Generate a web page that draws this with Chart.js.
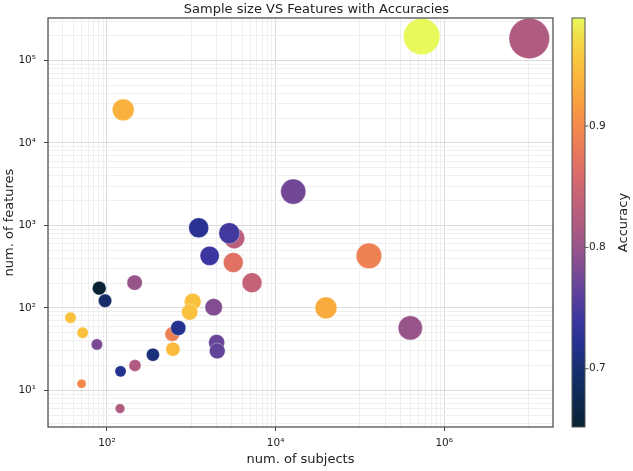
<!DOCTYPE html>
<html>
<head>
<meta charset="utf-8">
<script src="https://cdn.jsdelivr.net/npm/chart.js@4.4.1/dist/chart.umd.min.js"></script>
<style>
html,body{margin:0;padding:0;background:#fff;}
#wrap{width:633px;height:471px;}
canvas{display:block;}
</style>
</head>
<body>
<div id="wrap"><canvas id="c" width="633" height="471" style="width:633px;height:471px"></canvas></div>
<script>
// ---- data ----
const subjects = [37, 51.5, 50, 76, 81, 95, 143, 145, 215, 213, 156, 351, 606, 595, 701, 1040, 957, 1845, 2000, 2033, 1225, 1652, 3236, 2825, 3148, 5250, 16200, 39600, 128000, 396000, 541000, 10200000];
const features = [76, 50, 12, 36, 173, 122, 6, 17, 20, 202, 25200, 27, 31.5, 48, 57, 119, 89, 102, 38, 30, 933, 427, 700, 803, 354, 202, 2570, 100, 427, 57, 195000, 185000];
const accuracy = [0.95, 0.95, 0.90, 0.78, 0.652, 0.695, 0.82, 0.72, 0.82, 0.80, 0.935, 0.705, 0.945, 0.89, 0.72, 0.95, 0.95, 0.785, 0.77, 0.765, 0.725, 0.74, 0.83, 0.745, 0.87, 0.84, 0.775, 0.93, 0.89, 0.80, 0.989, 0.82];
const xLabeledTicks = [1e2, 1e4, 1e6];
const yLabeledTicks = [1e1, 1e2, 1e3, 1e4, 1e5];
const cbTicks = [0.7, 0.8, 0.9];
const accMin = 0.652, accMax = 0.989;

// ---- colormap (thermal-like) ----
const cmapStops = [
  [0.652,'#082233'],[0.68,'#0f2b58'],[0.70,'#172f70'],[0.72,'#24328f'],
  [0.74,'#3c36a0'],[0.76,'#5a409c'],[0.78,'#7a4b94'],[0.80,'#985589'],
  [0.82,'#b05c80'],[0.84,'#c46278'],[0.86,'#d96b6b'],[0.88,'#e9785b'],
  [0.90,'#f38a4b'],[0.92,'#f8a040'],[0.94,'#fbb63c'],[0.96,'#f8cb40'],
  [0.975,'#f0e04b'],[0.989,'#e8fa5b']
];
function hex2rgb(h){return [parseInt(h.slice(1,3),16),parseInt(h.slice(3,5),16),parseInt(h.slice(5,7),16)];}
function cmap(v){
  if (v <= cmapStops[0][0]) return cmapStops[0][1];
  for (let i=1;i<cmapStops.length;i++){
    if (v <= cmapStops[i][0]){
      const [v0,c0]=cmapStops[i-1],[v1,c1]=cmapStops[i];
      const t=(v-v0)/(v1-v0), a=hex2rgb(c0), b=hex2rgb(c1);
      return 'rgb('+a.map((x,k)=>Math.round(x+(b[k]-x)*t)).join(',')+')';
    }
  }
  return cmapStops[cmapStops.length-1][1];
}

const SUP = {'0':'⁰','1':'¹','2':'²','3':'³','4':'⁴','5':'⁵','6':'⁶','7':'⁷','8':'⁸','9':'⁹'};
function powLabel(v){ const e=Math.round(Math.log10(v)); return '10'+String(e).split('').map(c=>SUP[c]).join(''); }
function near(list,v){ return list.some(t=>Math.abs(t-v)/t<1e-9); }

const FONT = 'DejaVu Sans';
const TXT = '#222';

function xGridValues(min,max){
  const out=[];
  for(let k=0;k<=8;k++){ for(let m=1;m<=9;m++){
    if (k%2===0 && m!==1) continue;
    const v=m*Math.pow(10,k);
    if (v>=min && v<=max) out.push(v);
  }}
  return out;
}
function yGridValues(min,max){
  const out=[];
  for(let k=0;k<=6;k++){ for(let m=1;m<=9;m++){
    const v=m*Math.pow(10,k);
    if (v>=min && v<=max) out.push(v);
  }}
  return out;
}
function noPad(s){ s.paddingTop=0; s.paddingBottom=0; s.paddingLeft=0; s.paddingRight=0; }

const points = subjects.map((s,i)=>({x:s, y:features[i], r:1.65*Math.log10(s*features[i])}));

const framePlugin = {
  id:'frameAndColorbar',
  afterDraw(chart){
    const ctx=chart.ctx, a=chart.chartArea;
    ctx.save();
    ctx.strokeStyle='#444'; ctx.lineWidth=1.2;
    ctx.strokeRect(a.left, a.top, a.right-a.left, a.bottom-a.top);
    const s=chart.scales.cb;
    const x0=s.left+19, w=13;
    const yMin=s.getPixelForValue(s.min), yMax=s.getPixelForValue(s.max);
    const g=ctx.createLinearGradient(0,yMin,0,yMax);
    cmapStops.forEach(([v,c])=>g.addColorStop(Math.min(1,Math.max(0,(v-s.min)/(s.max-s.min))),c));
    ctx.fillStyle=g;
    ctx.fillRect(x0,yMax,w,yMin-yMax);
    ctx.lineWidth=1;
    ctx.strokeStyle='#555';
    ctx.strokeRect(x0,yMax,w,yMin-yMax);
    s.ticks.forEach(t=>{
      const y=s.getPixelForValue(t.value);
      ctx.beginPath(); ctx.moveTo(x0+w,y); ctx.lineTo(x0+w+3.5,y); ctx.stroke();
    });
    ctx.translate(s.left+71,(yMin+yMax)/2);
    ctx.rotate(-Math.PI/2);
    ctx.fillStyle=TXT; ctx.font='13px "'+FONT+'"';
    ctx.textAlign='center'; ctx.textBaseline='middle';
    ctx.fillText('Accuracy',0,0);
    ctx.restore();
  }
};

new Chart(document.getElementById('c'), {
  type:'bubble',
  data:{datasets:[{
    data:points,
    backgroundColor:accuracy.map(cmap),
    borderColor:'rgba(255,255,255,0.55)',
    borderWidth:0.6,
    hoverRadius:0
  }]},
  options:{
    responsive:false,
    animation:false,
    events:[],
    layout:{padding:0, autoPadding:false},
    plugins:{
      legend:{display:false},
      tooltip:{enabled:false},
      title:{display:true,text:'Sample size VS Features with Accuracies',color:TXT,
        font:{family:FONT,size:13,weight:'normal'},padding:{top:1.4,bottom:1}}
    },
    scales:{
      x:{
        type:'logarithmic', position:'bottom', min:20, max:1.95e7,
        afterBuildTicks:(s)=>{ s.ticks=xGridValues(s.min,s.max).map(v=>({value:v})); },
        afterFit:(s)=>{ s.height=44; noPad(s); },
        border:{display:false},
        grid:{
          color:(c)=> (c.tick && near(xLabeledTicks,c.tick.value)) ? '#dcdcdc' : '#efefef',
          tickColor:(c)=> (c.tick && near(xLabeledTicks,c.tick.value)) ? '#444' : 'rgba(0,0,0,0)',
          tickLength:4, lineWidth:1
        },
        ticks:{autoSkip:false,maxRotation:0,minRotation:0,padding:6,color:TXT,
          font:{family:FONT,size:10.5},
          callback:(v)=> near(xLabeledTicks,v) ? powLabel(v) : ''},
        title:{display:true,text:'num. of subjects',color:TXT,font:{family:FONT,size:13},padding:{top:0,bottom:3.2}}
      },
      y:{
        type:'logarithmic', position:'left', min:3.59, max:3.27e5,
        afterBuildTicks:(s)=>{ s.ticks=yGridValues(s.min,s.max).map(v=>({value:v})); },
        afterFit:(s)=>{ s.width=48; noPad(s); },
        border:{display:false},
        grid:{
          color:(c)=> (c.tick && near(yLabeledTicks,c.tick.value)) ? '#dcdcdc' : '#efefef',
          tickColor:(c)=> (c.tick && near(yLabeledTicks,c.tick.value)) ? '#444' : 'rgba(0,0,0,0)',
          tickLength:4, lineWidth:1
        },
        ticks:{autoSkip:false,padding:8,color:TXT,font:{family:FONT,size:10.5},
          callback:(v)=> near(yLabeledTicks,v) ? powLabel(v) : ''},
        title:{display:true,text:'num. of features',color:TXT,font:{family:FONT,size:13},padding:{top:1.5,bottom:0}}
      },
      cb:{
        type:'linear', position:'right', min:accMin, max:accMax,
        afterBuildTicks:(s)=>{ s.ticks=cbTicks.map(v=>({value:v})); },
        afterFit:(s)=>{ s.width=80; noPad(s); },
        border:{display:false},
        grid:{display:false,drawTicks:false,drawOnChartArea:false},
        ticks:{padding:36,color:TXT,font:{family:FONT,size:10.5},callback:(v)=>v.toFixed(1)}
      }
    }
  },
  plugins:[framePlugin]
});
</script>
</body>
</html>
